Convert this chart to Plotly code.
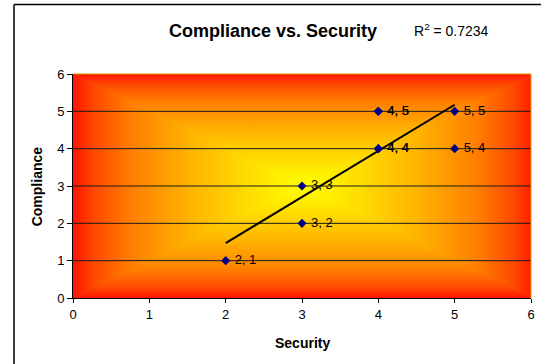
import numpy as np
import plotly.graph_objects as go

# ---- data (repeated points overlap) ----
security = [2, 3, 3, 4, 4, 4, 4, 5, 5]
compliance = [1, 3, 2, 5, 5, 4, 4, 5, 4]
r2_label = "R<sup>2</sup> = 0.7234"
x_ticks = [0, 1, 2, 3, 4, 5, 6]
y_ticks = [0, 1, 2, 3, 4, 5, 6]
title_text = "Compliance vs. Security"
x_title = "Security"
y_title = "Compliance"

FONT = "Arial, Liberation Sans, sans-serif"

# gradient stops from the edge (0) to the centre (1): red -> orange -> yellow
GRAD = [(0.0, "#FF1500"), (0.1, "#FF4C00"), (0.25, "#FF7E00"),
        (0.5, "#FFB200"), (0.75, "#FFDB00"), (1.0, "#FFFF00")]

xmin, xmax = x_ticks[0], x_ticks[-1]
ymin, ymax = y_ticks[0], y_ticks[-1]
xc, yc = (xmin + xmax) / 2, (ymin + ymax) / 2

edge_to_centre = [[p, c] for p, c in GRAD]
centre_to_edge = [[1 - p, c] for p, c in reversed(GRAD)]
full_h = [[p / 2, c] for p, c in GRAD] + [[1 - p / 2, c] for p, c in reversed(GRAD[:-1])]

fig = go.Figure()

# ---- background "from centre" gradient ----
fig.add_trace(go.Scatter(
    x=[xmin, xmax, xmax, xmin, xmin], y=[ymin, ymin, ymax, ymax, ymin],
    mode="lines", fill="toself", line=dict(width=0),
    fillgradient=dict(type="horizontal", start=xmin, stop=xmax, colorscale=full_h),
    hoverinfo="skip", showlegend=False))
for ty, st, sp, cs in [
    ([ymin, ymin, yc, ymin], ymin, yc, edge_to_centre),
    ([ymax, ymax, yc, ymax], yc, ymax, centre_to_edge),
]:
    fig.add_trace(go.Scatter(
        x=[xmin, xmax, xc, xmin], y=ty, mode="lines", fill="toself", line=dict(width=0),
        fillgradient=dict(type="vertical", start=st, stop=sp, colorscale=cs),
        hoverinfo="skip", showlegend=False))

# ---- gridlines drawn above the background ----
for v in y_ticks[1:-1]:
    fig.add_trace(go.Scatter(x=[xmin, xmax], y=[v, v], mode="lines",
                             line=dict(color="#1a1a1a", width=1),
                             hoverinfo="skip", showlegend=False))

# ---- linear trendline computed from the data ----
slope, intercept = np.polyfit(security, compliance, 1)
tx = np.array([min(security), max(security)], dtype=float)
fig.add_trace(go.Scatter(x=tx, y=slope * tx + intercept, mode="lines",
                         line=dict(color="black", width=2),
                         hoverinfo="skip", showlegend=False))

# ---- points with labels ----
labels = [f"\u00a0{a}, {b}" for a, b in zip(security, compliance)]
fig.add_trace(go.Scatter(
    x=security, y=compliance, mode="markers+text",
    marker=dict(symbol="diamond", size=7, color="#000080"),
    text=labels, textposition="middle right",
    textfont=dict(family=FONT, size=13, color="black"),
    hoverinfo="skip", showlegend=False))

L, R, T, B = 73, 10, 74, 66
W, H = 545, 364
pw, ph = W - L - R, H - T - B


def px(x):
    return (x - L) / pw


def py(y):
    return (H - B - y) / ph


fig.update_layout(
    width=W, height=H,
    margin=dict(l=L, r=R, t=T, b=B),
    paper_bgcolor="white", plot_bgcolor="white",
    font=dict(family=FONT, size=13, color="black"),
    xaxis=dict(range=[xmin, xmax], tickvals=x_ticks, showgrid=False, zeroline=False,
               showline=True, linecolor="black", linewidth=1,
               ticks="outside", ticklen=4, tickcolor="black",
               tickfont=dict(family=FONT, size=13, color="black")),
    yaxis=dict(range=[ymin, ymax], tickvals=y_ticks, showgrid=False, zeroline=False,
               showline=True, linecolor="black", linewidth=1,
               ticks="outside", ticklen=5, tickcolor="black",
               tickfont=dict(family=FONT, size=13, color="black")),
    annotations=[
        dict(text=f"<b>{title_text}</b>", x=px(275), y=py(31), xref="paper", yref="paper",
             showarrow=False, xanchor="center", yanchor="middle",
             font=dict(family=FONT, size=18, color="black")),
        dict(text=r2_label, x=px(415), y=py(30), xref="paper", yref="paper",
             showarrow=False, xanchor="left", yanchor="middle",
             font=dict(family=FONT, size=14, color="black")),
        dict(text=f"<b>{x_title}</b>", x=px(305), y=py(343), xref="paper", yref="paper",
             showarrow=False, xanchor="center", yanchor="middle",
             font=dict(family=FONT, size=14, color="black")),
        dict(text=f"<b>{y_title}</b>", x=px(37), y=py(186), xref="paper", yref="paper",
             showarrow=False, xanchor="center", yanchor="middle", textangle=-90,
             font=dict(family=FONT, size=14, color="black")),
    ],
    shapes=[
        # plot-area border (top and right)
        dict(type="line", xref="paper", yref="paper", x0=0, x1=1, y0=1, y1=1,
             line=dict(color="#C89B00", width=1), layer="above"),
        dict(type="line", xref="paper", yref="paper", x0=1, x1=1, y0=0, y1=1,
             line=dict(color="#E0A000", width=1), layer="above"),
        # chart-area outer border (left and top edges; the rest lies off-canvas)
        dict(type="line", xref="paper", yref="paper", x0=px(13.5), x1=px(13.5),
             y0=py(364), y1=py(4.5), line=dict(color="black", width=1.5), layer="above"),
        dict(type="line", xref="paper", yref="paper", x0=px(13.5), x1=px(545),
             y0=py(4.5), y1=py(4.5), line=dict(color="black", width=1.5), layer="above"),
    ],
)

fig.write_html("out.html", config={"displayModeBar": False},
               post_script="document.body.style.margin='0';document.body.style.overflow='hidden';")
